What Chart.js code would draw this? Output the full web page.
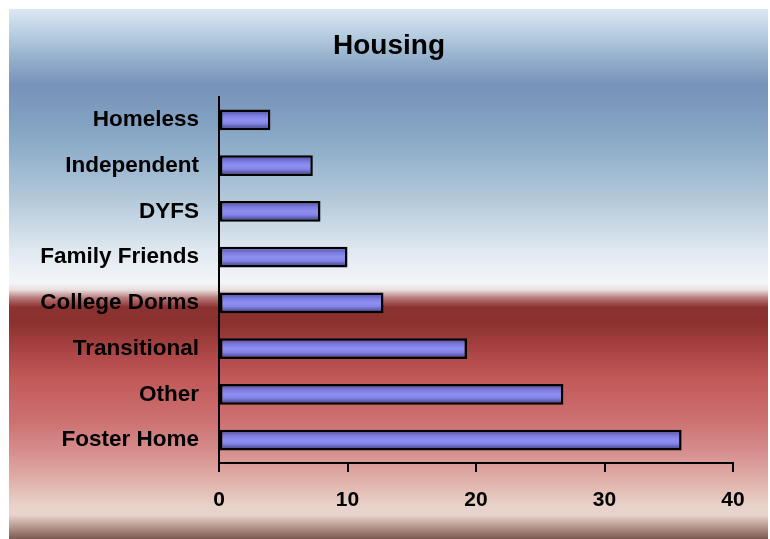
<!DOCTYPE html>
<html>
<head>
<meta charset="utf-8">
<script src="https://cdn.jsdelivr.net/npm/chart.js@4.4.1/dist/chart.umd.min.js"></script>
<style>
  html, body { margin: 0; padding: 0; background: #ffffff; }
  #wrap { width: 770px; height: 539px; position: relative; }
</style>
</head>
<body>
<div id="wrap"><canvas id="c" width="770" height="539"></canvas></div>
<script>
const chartTitle = "Housing";
const categories = ["Homeless", "Independent", "DYFS", "Family Friends", "College Dorms", "Transitional", "Other", "Foster Home"];
const values = [4, 7.3, 7.9, 10, 12.8, 19.3, 26.8, 36];
const xTicks = [0, 10, 20, 30, 40];

const bgPlugin = {
  id: 'bgPanel',
  beforeDraw(chart) {
    const ctx = chart.ctx;
    const x0 = 9, y0 = 9, x1 = 768, y1 = 539;
    const g = ctx.createLinearGradient(0, y0, 0, y1);
    const h = y1 - y0;
    const stops = [
      [9, '#dce8f2'], [35, '#b6cde0'], [60, '#93aecb'], [85, '#7892ba'],
      [105, '#7c9abd'], [140, '#8aaac8'], [200, '#b4c9da'], [250, '#e0e8f0'],
      [283, '#f3f6f9'], [290, '#e9dede'], [298, '#b87878'], [307, '#8c3232'],
      [322, '#8a302e'], [353, '#ad4646'], [380, '#c25a5a'], [420, '#cc7070'],
      [453, '#d78f8f'], [480, '#e0b0a8'], [506, '#e8d3cb'], [515, '#e6d4cc'],
      [524, '#c2a69c'], [539, '#7a5a50']
    ];
    stops.forEach(s => g.addColorStop(Math.min(1, Math.max(0, (s[0] - y0) / h)), s[1]));
    ctx.save();
    ctx.fillStyle = g;
    ctx.fillRect(x0, y0, x1 - x0, y1 - y0);
    ctx.restore();
  }
};

function barFill(context) {
  const chart = context.chart;
  const ys = chart.scales.y;
  if (!ys || ys.top === undefined || isNaN(ys.getPixelForValue(context.dataIndex))) return '#8888ea';
  const cy = ys.getPixelForValue(context.dataIndex);
  const half = 10;
  const g = chart.ctx.createLinearGradient(0, cy - half, 0, cy + half);
  g.addColorStop(0, '#4c4c98');
  g.addColorStop(0.18, '#6a6ac8');
  g.addColorStop(0.3, '#7e7ee2');
  g.addColorStop(0.5, '#8f8ff2');
  g.addColorStop(0.68, '#8484e6');
  g.addColorStop(0.82, '#6262b8');
  g.addColorStop(1, '#3e3e80');
  return g;
}

new Chart(document.getElementById('c'), {
  type: 'bar',
  data: {
    labels: categories,
    datasets: [{
      data: values,
      backgroundColor: barFill,
      borderColor: '#000000',
      borderWidth: 2.5,
      borderSkipped: false,
      barPercentage: 0.45,
      categoryPercentage: 1.0
    }]
  },
  options: {
    indexAxis: 'y',
    responsive: false,
    animation: false,
    devicePixelRatio: 1,
    layout: { padding: { left: 8, right: 0, top: 0, bottom: 0 } },
    plugins: {
      legend: { display: false },
      tooltip: { enabled: false },
      title: {
        display: true,
        text: chartTitle,
        color: '#000000',
        font: { family: 'Liberation Sans, Arial, sans-serif', size: 28, weight: 'bold', lineHeight: 1.2 },
        padding: { top: 29, bottom: 34.4 }
      }
    },
    scales: {
      x: {
        type: 'linear',
        min: 0,
        max: 40,
        afterBuildTicks(scale) { scale.ticks = xTicks.map(v => ({ value: v })); },
        afterFit(scale) { scale.height = 76; },
        grid: { display: true, drawOnChartArea: false, drawTicks: true, tickLength: 9, color: '#000000', lineWidth: 2 },
        border: { display: true, color: '#000000', width: 2 },
        ticks: {
          color: '#000000',
          padding: 16,
          font: { family: 'Liberation Sans, Arial, sans-serif', size: 21, weight: 'bold' }
        }
      },
      y: {
        afterFit(scale) { scale.width = 211; },
        grid: { display: false, drawTicks: false },
        border: { display: true, color: '#000000', width: 2 },
        ticks: {
          color: '#000000',
          padding: 20,
          font: { family: 'Liberation Sans, Arial, sans-serif', size: 22.5, weight: 'bold' }
        }
      },
      yRight: {
        type: 'linear',
        position: 'right',
        display: true,
        afterFit(scale) { scale.width = 37; },
        grid: { display: false, drawTicks: false },
        border: { display: false },
        ticks: { display: false }
      }
    }
  },
  plugins: [bgPlugin]
});
</script>
</body>
</html>
